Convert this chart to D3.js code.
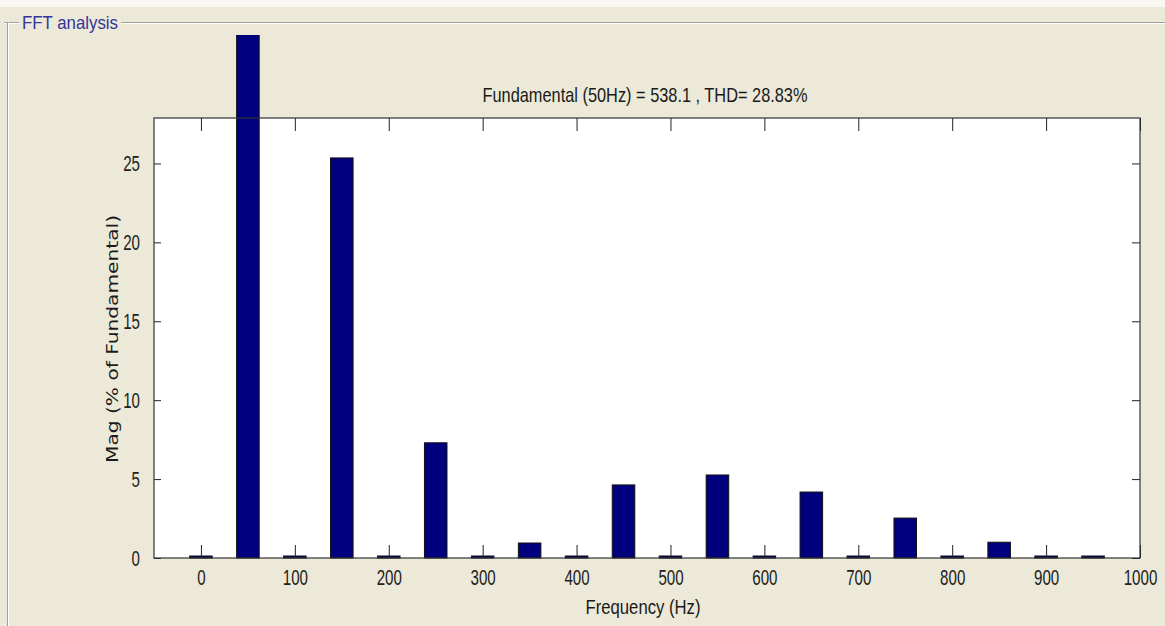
<!DOCTYPE html>
<html>
<head>
<meta charset="utf-8">
<script src="https://cdn.jsdelivr.net/npm/d3@7"></script>
<style>
  html, body { margin: 0; padding: 0; background: #ECE9D8; }
  svg { display: block; }
</style>
</head>
<body>
<svg id="chart" width="1165" height="626"></svg>
<script>
// Harmonic spectrum of the measured signal (magnitude as % of the 50 Hz fundamental)
const frequencies = [0, 50, 100, 150, 200, 250, 300, 350, 400, 450, 500, 550, 600, 650, 700, 750, 800, 850, 900, 950];
const magnitudes  = [0.1, 100, 0.1, 25.35, 0.1, 7.3, 0.1, 0.95, 0.1, 4.63, 0.1, 5.26, 0.1, 4.18, 0.1, 2.53, 0.1, 1.0, 0.1, 0.1];
const xTicks = [0, 100, 200, 300, 400, 500, 600, 700, 800, 900, 1000];
const yTicks = [0, 5, 10, 15, 20, 25];
const panelTitle = "FFT analysis";
const plotTitle = "Fundamental (50Hz) = 538.1 , THD= 28.83%";
const xLabel = "Frequency (Hz)";
const yLabel = "Mag (% of Fundamental)";

const svg = d3.select("#chart");
const W = 1165, H = 626;
const m = { left: 154, right: 1140, top: 118, bottom: 558 };

// light strip along the top edge
svg.append("rect").attr("x", 0).attr("y", 0).attr("width", W).attr("height", 7)
  .attr("fill", "#f7f6f1");

// etched group-box frame
const frame = svg.append("g");
const frameSeg = (x1, y1, x2, y2) => {
  frame.append("line").attr("x1", x1).attr("y1", y1).attr("x2", x2).attr("y2", y2)
    .attr("stroke", "#a3a196").attr("stroke-width", 1);
  frame.append("line").attr("x1", x1 + (x1 === x2 ? 1 : 0)).attr("y1", y1 + (y1 === y2 ? 1 : 0))
    .attr("x2", x2 + (x1 === x2 ? 1 : 0)).attr("y2", y2 + (y1 === y2 ? 1 : 0))
    .attr("stroke", "#ffffff").attr("stroke-width", 1);
};
frameSeg(4, 22.5, 19, 22.5);
frameSeg(121, 22.5, W, 22.5);
frameSeg(7.5, 22.5, 7.5, H);

svg.append("text").attr("x", 22).attr("y", 29)
  .attr("font-family", "Liberation Sans, Arial, sans-serif").attr("font-size", 19)
  .attr("fill", "#34349a")
  .attr("textLength", 96).attr("lengthAdjust", "spacingAndGlyphs")
  .text(panelTitle);

// scales
const x = d3.scaleLinear().domain([-50, 1000]).range([m.left, m.right]);
const y = d3.scaleLinear().domain([0, 27.88]).range([m.bottom, m.top]);
const barW = (x(50) - x(0)) * 0.48;

// plot area
svg.append("rect").attr("x", m.left).attr("y", m.top)
  .attr("width", m.right - m.left).attr("height", m.bottom - m.top)
  .attr("fill", "#ffffff");

// bars (allowed to run past the top of the axes up to the panel edge)
svg.append("clipPath").attr("id", "panelClip")
  .append("rect").attr("x", 0).attr("y", 35).attr("width", W).attr("height", H - 35);

svg.append("g").attr("clip-path", "url(#panelClip)")
  .selectAll("rect").data(frequencies).join("rect")
  .attr("x", (d) => x(d) - barW / 2)
  .attr("y", (d, i) => Math.min(y(magnitudes[i]), m.bottom - 2))
  .attr("width", barW)
  .attr("height", (d, i) => Math.max(m.bottom - y(magnitudes[i]), 2))
  .attr("fill", "#00007f")
  .attr("stroke", "#111111")
  .attr("stroke-width", 1);

const font = "Liberation Sans, Arial, sans-serif";
const digitW = 8.4;
const fmt = d3.format("d");

// axes
const styleAxis = (g) => {
  g.select(".domain").remove();
  g.selectAll(".tick line").attr("stroke", "#222").attr("stroke-width", 1);
  g.selectAll(".tick text").attr("font-family", font).attr("font-size", 22).attr("fill", "#222")
    .attr("textLength", (d) => fmt(d).length * digitW).attr("lengthAdjust", "spacingAndGlyphs");
};

svg.append("g").attr("transform", `translate(0,${m.bottom})`)
  .call(d3.axisBottom(x).tickValues(xTicks).tickFormat(fmt).tickSizeInner(-13).tickSizeOuter(0).tickPadding(11))
  .call(styleAxis);
svg.append("g").attr("transform", `translate(0,${m.top})`)
  .call(d3.axisTop(x).tickValues(xTicks).tickSizeInner(-13).tickSizeOuter(0).tickFormat(""))
  .call(styleAxis);
svg.append("g").attr("transform", `translate(${m.left},0)`)
  .call(d3.axisLeft(y).tickValues(yTicks).tickFormat(fmt).tickSizeInner(-7).tickSizeOuter(0).tickPadding(14))
  .call(styleAxis);
svg.append("g").attr("transform", `translate(${m.right},0)`)
  .call(d3.axisRight(y).tickValues(yTicks).tickSizeInner(-8).tickSizeOuter(0).tickFormat(""))
  .call(styleAxis);

// axes box
svg.append("rect").attr("x", m.left).attr("y", m.top)
  .attr("width", m.right - m.left).attr("height", m.bottom - m.top)
  .attr("fill", "none").attr("stroke", "#333").attr("stroke-width", 1.2);

// titles
svg.append("text").attr("x", 645).attr("y", 102).attr("text-anchor", "middle")
  .attr("font-family", font).attr("font-size", 21).attr("fill", "#1a1a1a")
  .attr("textLength", 325).attr("lengthAdjust", "spacingAndGlyphs")
  .text(plotTitle);

svg.append("text").attr("x", 643).attr("y", 614).attr("text-anchor", "middle")
  .attr("font-family", font).attr("font-size", 21).attr("fill", "#1a1a1a")
  .attr("textLength", 115).attr("lengthAdjust", "spacingAndGlyphs")
  .text(xLabel);

svg.append("text")
  .attr("transform", `translate(118,339) rotate(-90)`)
  .attr("text-anchor", "middle")
  .attr("font-family", "DejaVu Sans, Verdana, sans-serif").attr("font-size", 15)
  .attr("fill", "#1a1a1a")
  .attr("textLength", 248).attr("lengthAdjust", "spacingAndGlyphs")
  .text(yLabel);
</script>
</body>
</html>
